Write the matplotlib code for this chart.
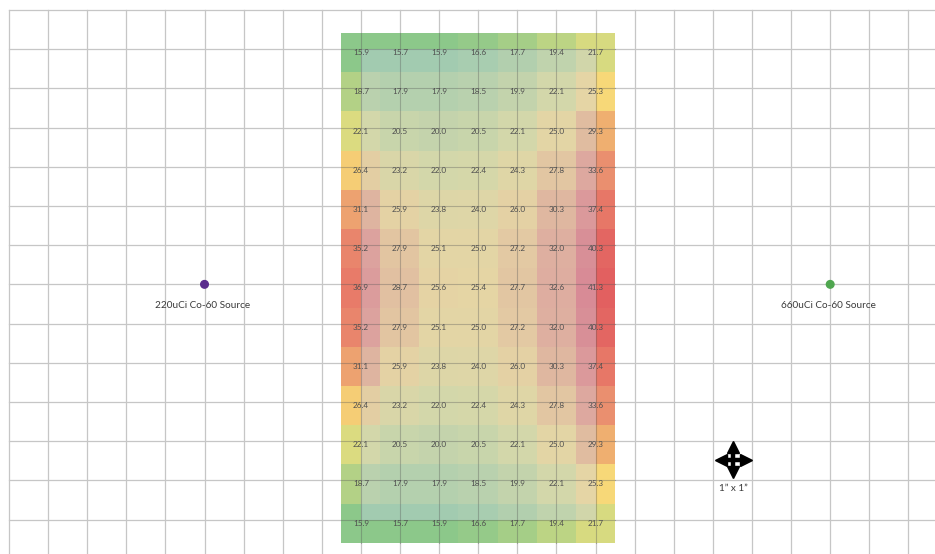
import matplotlib
matplotlib.use("Agg")
import matplotlib.pyplot as plt
import numpy as np
from matplotlib.colors import LinearSegmentedColormap
from matplotlib.patches import Rectangle

# dose readings, 13 rows x 7 columns (top to bottom)
row01 = [15.9, 15.7, 15.9, 16.6, 17.7, 19.4, 21.7]
row02 = [18.7, 17.9, 17.9, 18.5, 19.9, 22.1, 25.3]
row03 = [22.1, 20.5, 20.0, 20.5, 22.1, 25.0, 29.3]
row04 = [26.4, 23.2, 22.0, 22.4, 24.3, 27.8, 33.6]
row05 = [31.1, 25.9, 23.8, 24.0, 26.0, 30.3, 37.4]
row06 = [35.2, 27.9, 25.1, 25.0, 27.2, 32.0, 40.3]
row07 = [36.9, 28.7, 25.6, 25.4, 27.7, 32.6, 41.3]
row08 = [35.2, 27.9, 25.1, 25.0, 27.2, 32.0, 40.3]
row09 = [31.1, 25.9, 23.8, 24.0, 26.0, 30.3, 37.4]
row10 = [26.4, 23.2, 22.0, 22.4, 24.3, 27.8, 33.6]
row11 = [22.1, 20.5, 20.0, 20.5, 22.1, 25.0, 29.3]
row12 = [18.7, 17.9, 17.9, 18.5, 19.9, 22.1, 25.3]
row13 = [15.9, 15.7, 15.9, 16.6, 17.7, 19.4, 21.7]

sources = ["220uCi Co-60 Source", "660uCi Co-60 Source"]
source_x = [5, 21]
source_y = [7, 7]
source_colors = ["#5b2d8e", "#4fa64f"]

grid = np.array([row01, row02, row03, row04, row05, row06, row07,
                 row08, row09, row10, row11, row12, row13])

plt.rcParams['font.family'] = ['Lato', 'DejaVu Sans']

fig = plt.figure(figsize=(9.35, 5.54), dpi=100)
ax = fig.add_axes([0, 0, 1, 1])
ax.set_xlim(-0.23, 23.68)
ax.set_ylim(13.88, -0.255)
ax.axis('off')

# 1" graph paper
for gx in range(24):
    ax.plot([gx, gx], [0, 13.88], color='#c6c6c6', lw=0.9, zorder=1)
for gy in range(14):
    ax.plot([0, 23.68], [gy, gy], color='#c6c6c6', lw=0.9, zorder=1)

vmin, vmax = 15.9, 41.3
anchors = [(15.9, "#8cc88a"), (18.7, "#b4d286"), (22.1, "#dcdc80"),
           (25.3, "#f8d878"), (29.3, "#f0b070"), (33.6, "#eb9070"),
           (37.4, "#e87868"), (41.3, "#e26060")]
cmap = LinearSegmentedColormap.from_list(
    "dose", [((v - vmin) / (vmax - vmin), c) for v, c in anchors])

c0, r0 = 9, 1
dy = 0.09
ax.imshow(grid, cmap=cmap, vmin=vmin, vmax=vmax, interpolation='nearest',
          extent=(c0 - 0.5, c0 + 6.5, r0 + 12.5 + dy, r0 - 0.5 + dy),
          aspect='auto', zorder=2)
# paler wash over the inner part of the overlay
ax.add_patch(Rectangle((c0, r0), 6, 12, facecolor='#c8d2f0', alpha=0.38,
                       edgecolor='none', zorder=2.5))

# grid lines show through the overlay
for gx in range(9, 16):
    ax.plot([gx, gx], [0.59, 13.59], color='#555555', lw=0.8, alpha=0.35, zorder=3)
for gy in range(1, 14):
    ax.plot([8.5, 15.5], [gy, gy], color='#555555', lw=0.8, alpha=0.35, zorder=3)

for i in range(grid.shape[0]):
    for j in range(grid.shape[1]):
        ax.text(c0 + j, r0 + i + dy, "%.1f" % grid[i, j], ha='center', va='center',
                fontsize=5.9, color='#505050', zorder=4)

ax.scatter(source_x, source_y, s=30, c=source_colors, zorder=5)
for name, sx, sy in zip(sources, source_x, source_y):
    ax.text(sx - 0.05, sy + 0.55, name, ha='center', va='center',
            fontsize=7.2, color='#3a3a3a', zorder=5)

# scale marker (four-way arrow)
cx, cy, h = 18.52, 11.48, 0.32
ax.plot([cx - h, cx + h], [cy, cy], color='black', lw=3.2, solid_capstyle='butt', zorder=6)
ax.plot([cx, cx], [cy - h, cy + h], color='black', lw=3.2, solid_capstyle='butt', zorder=6)
ax.plot([cx - h], [cy], marker='<', ms=9, color='black', zorder=6)
ax.plot([cx + h], [cy], marker='>', ms=9, color='black', zorder=6)
ax.plot([cx], [cy - h], marker='^', ms=9, color='black', zorder=6)
ax.plot([cx], [cy + h], marker='v', ms=9, color='black', zorder=6)
ax.text(cx, cy + 0.72, "1\u201d x 1\u201d", ha='center', va='center',
        fontsize=7.2, color='#3a3a3a')

fig.savefig("out.png", dpi=100)
